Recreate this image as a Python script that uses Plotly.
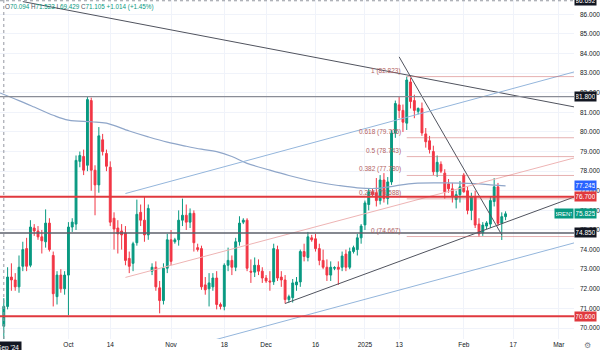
import pandas as pd
import plotly.graph_objects as go

# ---------------- data ----------------
HOLIDAYS = ["2024-12-25", "2025-01-01"]
FIRST_BAR = "2024-09-11"
LAST_BAR = "2025-02-14"

OPEN = [70.09, 71.10, 72.60, 72.45, 72.10, 73.15, 74.05, 73.20, 75.10, 74.95,
        74.65, 74.40, 75.35, 73.70, 71.60, 72.70, 72.00, 72.70, 75.15, 75.30,
        78.50, 78.75, 78.30, 81.60, 78.05, 77.30, 79.60, 78.90, 78.20, 75.60,
        75.10, 74.95, 74.85, 73.55, 73.30, 74.35, 75.90, 75.50, 74.75, 72.90,
        73.10, 72.05, 71.40, 73.05, 74.50, 74.40, 74.50, 75.50, 75.75, 75.40,
        75.85, 74.10, 74.05, 72.20, 72.00, 72.10, 72.55, 71.20, 71.10, 73.20,
        73.45, 73.10, 74.40, 75.40, 75.50, 72.90, 72.85, 73.20, 72.90, 72.55,
        72.40, 72.36, 74.00, 72.60, 72.45, 71.45, 71.55, 72.20, 72.35, 73.90,
        73.60, 74.60, 74.55, 74.05, 73.45, 73.10, 72.70, 73.05, 73.10, 73.10,
        73.77, 73.10, 73.90, 74.00, 74.60, 75.26, 76.30, 76.95, 76.90, 76.50,
        77.55, 76.60, 77.45, 79.95, 81.38, 81.10, 80.45, 82.55, 81.60, 81.05,
        81.20, 79.90, 79.55, 79.00, 77.97, 78.35, 77.90, 77.35, 77.10, 76.55,
        76.80, 77.80, 77.00, 76.00, 76.70, 75.30, 74.85, 75.20, 75.30, 76.45,
        77.20, 75.34, 75.68]
HIGH = [71.523, 73.10, 73.30, 72.80, 73.70, 74.40, 74.60, 75.50, 75.30, 75.20,
        75.00, 76.05, 75.60, 73.90, 72.90, 73.00, 72.90, 75.40, 75.60, 78.80,
        79.00, 79.10, 81.80, 81.75, 78.30, 80.25, 79.90, 79.10, 78.50, 75.90,
        75.50, 75.30, 75.20, 73.90, 74.40, 76.55, 76.30, 76.70, 76.30, 73.30,
        73.40, 72.40, 73.30, 74.80, 75.00, 74.60, 76.00, 76.60, 76.30, 76.10,
        76.00, 74.30, 74.20, 72.60, 72.80, 72.80, 72.90, 71.30, 73.30, 74.10,
        73.70, 74.60, 75.70, 75.60, 75.60, 73.50, 73.60, 73.50, 73.10, 72.70,
        72.90, 74.30, 74.20, 72.90, 72.70, 71.70, 72.50, 72.60, 74.00, 74.30,
        74.90, 74.75, 74.80, 74.30, 74.00, 73.50, 73.40, 73.15, 73.40, 73.90,
        74.00, 74.10, 74.20, 74.80, 75.30, 76.50, 77.10, 77.10, 77.65, 77.80,
        77.90, 77.70, 80.10, 81.60, 81.80, 81.40, 82.823, 82.75, 81.90, 81.25,
        81.50, 80.20, 79.80, 79.30, 78.80, 78.50, 78.10, 77.60, 77.40, 77.00,
        77.50, 77.90, 77.20, 76.90, 77.00, 75.60, 75.40, 75.45, 76.70, 77.65,
        77.40, 75.90, 75.95]
LOW = [69.429, 70.95, 71.90, 71.90, 71.80, 72.90, 72.90, 73.10, 74.70, 74.50,
       73.80, 74.10, 73.90, 71.10, 71.20, 71.80, 71.70, 70.65, 74.90, 75.00,
       78.20, 77.80, 78.00, 77.00, 75.75, 76.90, 78.80, 78.00, 75.20, 74.00,
       73.80, 74.00, 73.20, 72.80, 72.90, 74.20, 75.20, 74.40, 74.50, 72.70,
       71.90, 70.75, 71.20, 72.80, 73.20, 74.30, 74.20, 75.20, 75.00, 75.10,
       73.90, 73.90, 71.95, 71.70, 71.10, 71.90, 70.95, 70.95, 70.90, 72.90,
       72.70, 72.90, 74.20, 75.30, 72.90, 72.30, 72.60, 72.70, 72.30, 72.30,
       71.90, 72.20, 72.40, 72.10, 71.25, 71.30, 71.30, 71.90, 72.10, 73.40,
       73.40, 74.40, 73.90, 73.20, 73.00, 72.40, 72.40, 72.95, 72.20, 72.90,
       72.90, 73.00, 73.80, 73.70, 74.30, 75.00, 76.00, 76.70, 76.20, 76.30,
       76.40, 76.30, 77.30, 79.70, 80.70, 80.00, 80.10, 81.20, 80.70, 80.90,
       79.80, 79.20, 78.90, 77.80, 77.70, 77.90, 76.60, 76.90, 76.40, 76.10,
       76.40, 76.90, 75.80, 75.50, 75.10, 74.667, 74.70, 75.05, 75.10, 76.20,
       75.20, 74.49, 75.50]
CLOSE = [71.105, 72.60, 72.45, 72.10, 73.10, 74.00, 73.15, 75.15, 74.95, 74.65,
         74.45, 75.35, 74.00, 71.75, 72.70, 72.00, 72.70, 75.15, 75.40, 78.55,
         78.80, 78.05, 81.65, 78.05, 77.30, 79.80, 79.00, 78.25, 75.40, 75.05,
         74.80, 74.75, 73.45, 73.15, 74.30, 75.80, 75.50, 74.75, 76.10, 73.10,
         72.10, 71.40, 73.05, 74.50, 73.40, 74.50, 75.50, 75.75, 75.40, 75.85,
         74.35, 74.00, 72.10, 71.95, 72.30, 72.55, 71.20, 71.10, 73.20, 73.45,
         73.10, 74.40, 75.35, 75.50, 73.05, 72.85, 73.20, 72.90, 72.55, 72.40,
         72.35, 74.05, 72.55, 72.45, 71.45, 71.60, 72.30, 72.35, 73.90, 73.65,
         74.65, 74.50, 74.05, 73.45, 73.10, 72.70, 73.10, 73.08, 73.00, 73.67,
         73.10, 73.90, 74.10, 74.60, 75.20, 76.38, 76.95, 76.80, 76.50, 77.55,
         76.60, 77.45, 79.95, 81.45, 81.10, 80.50, 82.65, 81.55, 81.10, 81.20,
         79.95, 79.50, 79.10, 77.97, 78.45, 78.00, 76.95, 77.10, 76.70, 76.80,
         77.20, 76.95, 76.00, 76.70, 75.25, 74.80, 75.25, 75.36, 76.50, 77.20,
         75.34, 75.68, 75.825]

MA_DATES = ["2024-09-10", "2024-09-16", "2024-09-20", "2024-09-26", "2024-10-01",
            "2024-10-08", "2024-10-13", "2024-10-20", "2024-10-25", "2024-10-31",
            "2024-11-06", "2024-11-11", "2024-11-15", "2024-11-20", "2024-11-25",
            "2024-12-02", "2024-12-08", "2024-12-16", "2024-12-23", "2024-12-30",
            "2025-01-06", "2025-01-12", "2025-01-17", "2025-01-27", "2025-02-05",
            "2025-02-10", "2025-02-14"]
MA_VALUES = [81.99, 81.60, 81.27, 80.85, 80.60, 80.52, 80.45, 80.05, 79.75, 79.48,
             79.27, 79.12, 79.00, 78.75, 78.40, 78.05, 77.78, 77.46, 77.27, 77.15,
             77.12, 77.25, 77.38, 77.40, 77.36, 77.30, 77.245]

# trend lines: (start date, start price, end date, end price)
TREND_DARK = [("2024-09-17", 86.65, "2025-03-07", 81.28),
              ("2024-12-06", 71.25, "2025-03-07", 76.68),
              ("2025-01-13", 83.83, "2025-02-13", 74.75)]
TREND_BLUE = [("2024-10-18", 76.86, "2025-03-07", 83.06),
              ("2024-11-14", 69.37, "2025-03-07", 74.34)]
TREND_PINK = [("2024-10-18", 72.58, "2025-03-07", 78.67)]

# horizontal levels
RED_LEVELS = [76.70, 70.60]
GRAY_LEVELS = [81.80, 74.85]

# fibonacci retracement
FIB_RATIOS = ["1", "0.618", "0.5", "0.382", "0.236", "0"]
FIB_VALUES = [82.823, 79.705, 78.743, 77.780, 76.588, 74.667]
FIB_START = "2025-01-15"
FIB_LABEL_AT = "2025-01-14"

TICK_DATES = ["2024-10-01", "2024-10-14", "2024-11-01", "2024-11-18", "2024-12-01",
              "2024-12-16", "2025-01-02", "2025-01-13", "2025-02-02", "2025-02-17",
              "2025-03-03"]
TICK_TEXT = ["Oct", "14", "Nov", "18", "Dec", "16", "2025", "13", "Feb", "17", "Mar"]

X_RANGE = ["2024-09-10", "2025-03-07"]
Y_RANGE = [69.44, 86.73]

LAST_PRICE = 75.825
MA_LAST = 77.245
CROSS_PRICE = 86.692

UP = "#089981"
DOWN = "#f23645"
RED = "#e0393e"
DARK = "#50535e"

# ---------------- calendar (6 sessions/week, no Saturdays) ----------------
days = pd.date_range(FIRST_BAR, LAST_BAR, freq="D")
bar_dates = [d.strftime("%Y-%m-%d") for d in days
             if d.weekday() != 5 and d.strftime("%Y-%m-%d") not in HOLIDAYS]

fig = go.Figure()
fig.add_trace(go.Candlestick(
    x=bar_dates, open=OPEN, high=HIGH, low=LOW, close=CLOSE,
    increasing=dict(line=dict(color=UP, width=1), fillcolor=UP),
    decreasing=dict(line=dict(color=DOWN, width=1), fillcolor=DOWN),
    whiskerwidth=0, showlegend=False, hoverinfo="skip"))
fig.add_trace(go.Scatter(
    x=MA_DATES, y=MA_VALUES, mode="lines",
    line=dict(color="#8fa6c9", width=1.2, shape="spline"),
    showlegend=False, hoverinfo="skip"))

shapes = []
for x0, y0, x1, y1 in TREND_DARK:
    shapes.append(dict(type="line", xref="x", yref="y", x0=x0, y0=y0, x1=x1, y1=y1,
                       line=dict(color=DARK, width=1)))
for x0, y0, x1, y1 in TREND_BLUE:
    shapes.append(dict(type="line", xref="x", yref="y", x0=x0, y0=y0, x1=x1, y1=y1,
                       line=dict(color="#94b6dc", width=1)))
for x0, y0, x1, y1 in TREND_PINK:
    shapes.append(dict(type="line", xref="x", yref="y", x0=x0, y0=y0, x1=x1, y1=y1,
                       line=dict(color="#eeb4b4", width=1)))
for v in FIB_VALUES:
    shapes.append(dict(type="line", xref="x", yref="y", x0=FIB_START, x1=X_RANGE[1],
                       y0=v, y1=v, line=dict(color="rgba(205,100,100,0.5)", width=1)))
shapes.append(dict(type="line", xref="paper", yref="y", x0=0, x1=1, y0=GRAY_LEVELS[0],
                   y1=GRAY_LEVELS[0], line=dict(color="#8a8d96", width=1.2)))
shapes.append(dict(type="line", xref="paper", yref="y", x0=0, x1=1, y0=GRAY_LEVELS[1],
                   y1=GRAY_LEVELS[1], line=dict(color="#5d606b", width=1.5)))
for v in RED_LEVELS:
    shapes.append(dict(type="line", xref="paper", yref="y", x0=0, x1=1, y0=v, y1=v,
                       line=dict(color=RED, width=2)))
# crosshair
shapes.append(dict(type="line", xref="x", yref="paper", x0=FIRST_BAR, x1=FIRST_BAR,
                   y0=0, y1=1, line=dict(color="#9598a1", width=1, dash="dot")))
shapes.append(dict(type="line", xref="paper", yref="y", x0=0, x1=1, y0=CROSS_PRICE,
                   y1=CROSS_PRICE, line=dict(color="#9598a1", width=1, dash="dot")))

ann = []
for r, v in zip(FIB_RATIOS, FIB_VALUES):
    ann.append(dict(xref="x", yref="y", x=FIB_LABEL_AT, y=v, text=f"{r} ({v:.3f})",
                    xanchor="right", yanchor="bottom", showarrow=False,
                    font=dict(size=6.5, color="#b25f5f", family="Arial")))


def price_box(val, color, text=None):
    return dict(xref="paper", yref="y", x=1, y=val, xanchor="left", yanchor="middle",
                text=text or f"{val:.3f}", showarrow=False, bgcolor=color,
                font=dict(size=6.5, color="white", family="Arial"),
                width=19, height=7, borderpad=1, align="center")


ann.append(price_box(CROSS_PRICE, "#131722"))
ann.append(price_box(GRAY_LEVELS[0], "#131722"))
ann.append(price_box(MA_LAST, "#2962ff"))
ann.append(price_box(RED_LEVELS[0], RED))
ann.append(price_box(LAST_PRICE, UP))
ann.append(price_box(GRAY_LEVELS[1], "#131722"))
ann.append(price_box(RED_LEVELS[1], RED))
ann.append(dict(xref="paper", yref="y", x=1, y=LAST_PRICE, xanchor="right",
                yanchor="middle", text="BRENT", showarrow=False, bgcolor=UP,
                font=dict(size=6, color="white", family="Arial"),
                width=16, height=7, borderpad=1))
ann.append(dict(xref="x", yref="paper", x=FIRST_BAR, y=0, yanchor="top", yshift=-2,
                text="11 Sep '24", showarrow=False, bgcolor="#131722",
                font=dict(size=6.5, color="white", family="Arial"), borderpad=1.5))
legend_txt = ("O<span style='color:#089981'>70.094</span> "
              "H<span style='color:#089981'>71.523</span> "
              "L<span style='color:#089981'>69.429</span> "
              "C<span style='color:#089981'>71.105</span> "
              "<span style='color:#089981'>+1.014 (+1.45%)</span>")
ann.append(dict(xref="paper", yref="paper", x=0, y=1, xanchor="left", yanchor="top",
                xshift=3, yshift=-1, text=legend_txt, showarrow=False,
                font=dict(size=6.3, color="#50535e", family="Arial")))
ann.append(dict(xref="paper", yref="paper", x=1, y=0, xanchor="left", yanchor="top",
                xshift=8, yshift=0, text="⚙", showarrow=False,
                font=dict(size=8, color="#787b86")))

fig.update_layout(
    width=600, height=350, margin=dict(l=0, r=23, t=0, b=11),
    paper_bgcolor="white", plot_bgcolor="white",
    shapes=shapes, annotations=ann, showlegend=False, boxgap=0.3,
    font=dict(family="Arial", color="#131722"),
    xaxis=dict(type="date", range=X_RANGE,
               rangebreaks=[dict(bounds=["sat", "sun"]), dict(values=HOLIDAYS)],
               rangeslider=dict(visible=False), tickvals=TICK_DATES, ticktext=TICK_TEXT,
               showgrid=True, gridcolor="#f0f3fa", gridwidth=1, zeroline=False,
               showline=False, ticks="", tickfont=dict(size=6.5, color="#131722")),
    yaxis=dict(side="right", range=Y_RANGE, tick0=70, dtick=1, tickformat=".3f",
               showgrid=True, gridcolor="#f0f3fa", gridwidth=1, zeroline=False,
               showline=False, ticks="", ticklabelstandoff=5,
               tickfont=dict(size=6.5, color="#131722")),
)

fig.write_html("out.html")
